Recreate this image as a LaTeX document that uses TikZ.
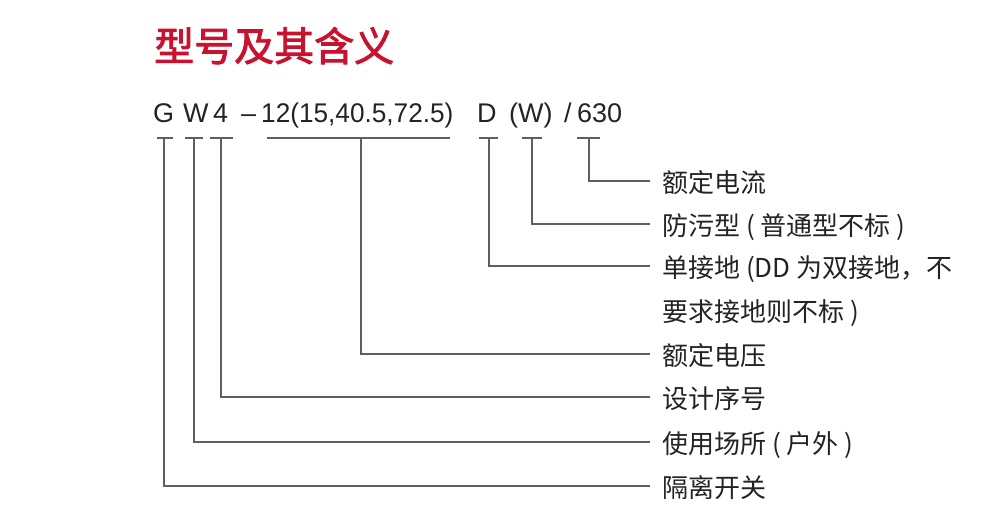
\documentclass[tikz,border=0pt]{standalone}
\usepackage{fontspec}
\setmainfont{Liberation Sans}
\newfontfamily\cjk{Noto Sans CJK SC}
\newfontfamily\cjktitle[FakeBold=2.2]{Noto Sans CJK SC}
\definecolor{titlered}{RGB}{200,18,46}
\definecolor{txt}{RGB}{35,35,35}
\definecolor{ln}{RGB}{95,95,95}
\begin{document}
\begin{tikzpicture}[x=1pt,y=-1pt,
  lbl/.style={anchor=base west,inner sep=0pt,font=\cjk\fontsize{26}{30}\selectfont,text=txt},
  code/.style={anchor=base west,inner sep=0pt,font=\fontsize{27}{32}\selectfont,text=txt},
  tbar/.style={draw=ln,line width=1.4pt},
  lead/.style={draw=ln,line width=1.4pt}]
\useasboundingbox (0,0) rectangle (1000,519);
% title
\node[anchor=base west,inner sep=0pt,font=\cjktitle\fontsize{40}{44}\selectfont,text=titlered] (title) at (154,61) {型号及其含义};
% model code
\node[code] (cG) at (153,122) {G};
\node[code] (cW) at (183,122) {W};
\node[code] (c4) at (213,122) {4};
\node[code] (cdash) at (241,122) {–};
\node[code] (cV) at (261,122) {\addfontfeatures{FakeStretch=0.97}12(15,40.5,72.5)};
\node[code] (cD) at (477,122) {D};
\node[code] (cWW) at (509,122) {(W)};
\node[code] (cslash) at (564,122) {/};
\node[code] (c630) at (577,122) {630};
% T-bar tops
\coordinate (tG) at (164,138);
\coordinate (tW) at (194,138);
\coordinate (t4) at (221,138);
\coordinate (tV) at (361,138);
\coordinate (tD) at (489,138);
\coordinate (tWW) at (532,138);
\coordinate (t630) at (589,138);
\draw[tbar] (157,138) -- (173,138);
\draw[tbar] (185,138) -- (203,138);
\draw[tbar] (210,138) -- (233,138);
\draw[tbar] (267,138) -- (450,138);
\draw[tbar] (479,138) -- (498,138);
\draw[tbar] (522,138) -- (542,138);
\draw[tbar] (577,138) -- (600,138);
% labels (baseline 11px below the leader line)
\node[lbl] (l630) at (662,192) {额定电流};
\node[lbl] (lWW) at (662,235) {防污型 ( 普通型不标 )};
\node[lbl] (lD) at (662,277) {单接地 (DD 为双接地，不};
\node[lbl] (lD2) at (662,321) {要求接地则不标 )};
\node[lbl] (lV) at (662,365) {额定电压};
\node[lbl] (l4) at (662,408) {设计序号};
\node[lbl] (lW) at (662,453) {使用场所 ( 户外 )};
\node[lbl] (lG) at (662,497) {隔离开关};
% leaders
\draw[lead] (t630) |- ([xshift=-12pt,yshift=11pt]l630.base west);
\draw[lead] (tWW) |- ([xshift=-12pt,yshift=11pt]lWW.base west);
\draw[lead] (tD) |- ([xshift=-12pt,yshift=11pt]lD.base west);
\draw[lead] (tV) |- ([xshift=-12pt,yshift=11pt]lV.base west);
\draw[lead] (t4) |- ([xshift=-12pt,yshift=11pt]l4.base west);
\draw[lead] (tW) |- ([xshift=-12pt,yshift=11pt]lW.base west);
\draw[lead] (tG) |- ([xshift=-12pt,yshift=11pt]lG.base west);
\end{tikzpicture}
\end{document}
